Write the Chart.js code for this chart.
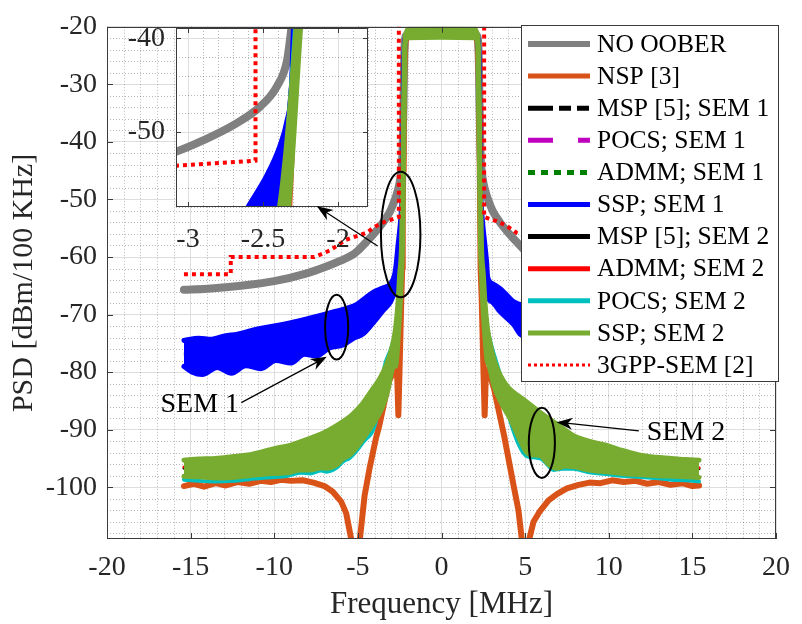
<!DOCTYPE html>
<html><head><meta charset="utf-8">
<script src="https://cdn.jsdelivr.net/npm/chart.js@4"></script>
<style>
html,body{margin:0;padding:0;background:#fff;}
#wrap{position:relative;width:802px;height:624px;}
canvas{position:absolute;left:0;top:0;}
</style></head><body>
<div id="wrap"><canvas id="main" width="802" height="624"></canvas><canvas id="inset" width="802" height="624"></canvas></div>
<script>
// ---------------- DATA ----------------
const xTicks = [-20,-15,-10,-5,0,5,10,15,20];
const yTicks = [-100,-90,-80,-70,-60,-50,-40,-30,-20];
const insetXTicks = [-3,-2.5,-2];
const insetYTicks = [-50,-40];

const legendLabels = ['NO OOBER','NSP [3]','MSP [5]; SEM 1','POCS; SEM 1','ADMM; SEM 1','SSP; SEM 1','MSP [5]; SEM 2','ADMM; SEM 2','POCS; SEM 2','SSP; SEM 2','3GPP-SEM [2]'];

const noOoberX = [-15.4,-14,-12,-10,-8,-7,-6,-5.3,-5,-4.5,-4,-3.5,-3.08,-2.9,-2.68,-2.52,-2.41,-2.34,-2.315,-2.27,-2.24,-2.2,-2.1,0,2.1,2.2,2.24,2.27,2.315,2.34,2.41,2.52,2.68,2.9,3.08,3.5,4,4.5,5,5.3,6,7,8,10,12,14,15.4];
const noOoberY = [-65.7,-65.5,-65.0,-64.2,-62.8,-61.8,-60.6,-59.6,-58.9,-57.4,-55.8,-54.0,-52.1,-50.9,-49.1,-47.3,-45.2,-42.4,-39.5,-33,-27,-23,-21.5,-21.2,-21.5,-23,-27,-33,-39.5,-42.4,-45.2,-47.3,-49.1,-50.9,-52.1,-54.0,-55.8,-57.4,-58.9,-59.6,-60.6,-61.8,-62.8,-64.2,-65.0,-65.5,-65.7];

const nspX = [-15.4,-14.8,-14.2,-13.5,-12.9,-12.2,-11.5,-10.8,-10.2,-9.6,-9.0,-8.3,-7.65,-7.0,-6.5,-6.0,-5.7,-5.4,-5.15,-4.88,-4.6,-4.3,-3.92,-3.72,-3.4,-3.13,-2.95,-2.75,-2.65,-2.58,-2.52,-2.46,-2.40,-2.35,-2.325,-2.31,-2.29,-2.26,-2.22,-2.15,-2.0,0,
  2.0,2.15,2.22,2.26,2.29,2.31,2.325,2.35,2.40,2.46,2.52,2.58,2.65,2.75,2.95,3.15,3.74,4.33,4.6,4.8,5.05,5.25,5.5,5.9,6.4,6.9,7.5,8.2,8.85,9.5,10.2,10.9,11.6,12.3,13.0,13.7,14.4,15.0,15.4];
const nspY = [-99.8,-99.4,-99.9,-99.3,-99.7,-99.1,-99.4,-98.9,-99.1,-98.7,-98.9,-98.8,-99.2,-99.8,-100.8,-102.5,-104.5,-109,-125,-109,-101.5,-96.7,-91.5,-89.3,-85,-81.5,-80.5,-79.5,-80.5,-87.5,-81,-74,-67,-62,-58,-53,-45,-35,-27,-22.5,-21.5,-21.2,
  -21.5,-22.5,-27,-35,-45,-53,-58,-62,-67,-74,-81,-87.5,-80.5,-79.5,-81,-83,-91,-100,-104,-109,-125,-109,-106,-104.1,-102.3,-101.2,-100.2,-99.6,-99.2,-99.3,-98.8,-99.1,-98.9,-99.4,-99.1,-99.6,-99.3,-99.8,-99.7];

const mspSem1X  = [-15.4,-12,-9,-6,-4,-3,0,3,4,6,9,12,15.4];
const mspSem1Y  = [-77,-76.3,-74.8,-72,-69.5,-66.5,null,-66.3,-69.6,-72,-74.8,-76.3,-77];
const pocsSem1X = [-15.4,-12,-9,-6,-4,-3,0,3,4,6,9,12,15.4];
const pocsSem1Y = [-76.8,-76.0,-74.5,-71.7,-69.2,-66.3,null,-66.1,-69.3,-71.7,-74.5,-76.0,-76.8];
const admmSem1X = [-15.4,-12,-9,-6,-4,-3,0,3,4,6,9,12,15.4];
const admmSem1Y = [-77.2,-76.6,-75.1,-72.3,-69.8,-66.7,null,-66.5,-69.9,-72.3,-75.1,-76.6,-77.2];

const sspSem1UpperX = [-15.4,-14.5,-13.8,-12.95,-12.2,-11,-10,-9,-8,-7.06,-6.3,-5.1,-4.5,-4.0,-3.52,-3.03,-2.8,-2.7,-2.6,-2.48,-2.39,-2.34,-2.31,-2.30,-2.28,-2.24,-2.15,-2.0,0,
  2.0,2.15,2.24,2.28,2.30,2.31,2.34,2.39,2.48,2.6,2.7,2.76,3.03,3.55,4.0,4.33,5.1,6.3,7.06,8,9,10,11,12.2,12.95,13.8,14.5,15.4];
const sspSem1UpperY = [-74.5,-74.1,-74.3,-73.7,-73.4,-72.5,-72.0,-71.4,-70.7,-70.0,-69.4,-68.3,-67.0,-66.0,-65.4,-64.6,-63.0,-61.0,-58.0,-54.8,-51.6,-48.8,-45.2,-40.2,-33,-25,-21.8,-21.3,-21.2,
  -21.3,-21.8,-25,-33,-40.2,-45.2,-48.8,-51.6,-54.8,-58,-61,-63.5,-64.6,-65.6,-66.9,-67.8,-68.6,-69.4,-70.0,-70.7,-71.4,-72.0,-72.5,-73.4,-73.7,-74.3,-74.1,-74.5];
const sspSem1LowerX = [-15.4,-14.9,-14.3,-13.4,-12.56,-11.7,-10.8,-9.9,-9.0,-8.2,-7.5,-6.7,-5.88,-5.3,-4.7,-4.1,-3.52,-3.03,-2.74,-2.6,-2.5,-2.41,-2.38,-2.34,-2.31,-2.287,-2.26,-2.2,-2.05,0,
  2.05,2.2,2.26,2.287,2.31,2.34,2.38,2.41,2.5,2.6,2.76,3.03,3.5,4.33,4.7,5.3,5.88,6.7,7.5,8.2,9.0,9.9,10.8,11.7,12.56,13.4,14.3,14.9,15.4];
const sspSem1LowerY = [-79.0,-80.0,-80.4,-79.2,-80.2,-78.9,-79.4,-78.0,-78.4,-76.9,-77.2,-75.8,-75.3,-74.2,-73.4,-71.5,-69.4,-67.7,-65.4,-63,-61,-58,-54.5,-50.5,-45,-39.8,-32,-24,-21.8,-21.6,
  -21.8,-24,-32,-39.8,-45,-50.5,-54.5,-58,-61,-63,-67,-67.8,-69.5,-71.8,-73.4,-74.2,-75.3,-75.8,-77.2,-76.9,-78.4,-78.0,-79.4,-78.9,-80.2,-79.2,-80.4,-80.0,-79.0];

const mspSem2X  = [-15.4,-12,-9,-7,-5.5,-4.5,-3.5,0,3.5,4.5,5.5,7,9,12,15.4];
const mspSem2Y  = [-96.7,-96.4,-95.2,-93.8,-91.5,-88.5,-83,null,-82.5,-88,-91,-93.5,-95,-96.3,-96.8];
const admmSem2X = [-15.4,-12,-9,-7,-5.5,-4.5,-3.5,0,3.5,4.5,5.5,7,9,12,15.4];
const admmSem2Y = [-96.5,-96.1,-95.0,-93.5,-91.2,-88.0,-82.6,null,-82.2,-87.6,-90.7,-93.2,-94.8,-96.0,-96.6];

const pocsSem2X = [-15.4,-14.5,-13.5,-12.5,-11.5,-10.5,-9.8,-9.2,-8.4,-7.85,-7.2,-6.86,-6.27,-5.88,-5.49,-4.7,-3.92,-3.4,-3.0,-2.75,-2.6,-2.45,-2.36,-2.3,-2.25,-2.2,-2.05,0,
  2.05,2.2,2.25,2.3,2.36,2.45,2.6,2.75,3.0,3.3,3.6,4.13,5.11,5.5,6.0,6.4,6.69,7.2,7.87,8.8,9.83,10.8,11.8,12.8,13.76,14.6,15.4];
const pocsSem2Y = [-98.7,-98.9,-99.0,-98.9,-98.6,-98.3,-98.2,-98.0,-97.5,-97.6,-97.1,-97.3,-96.6,-95.5,-94.9,-92.2,-88.5,-79.0,-75.8,-72.8,-68.5,-64,-55,-42,-30,-23,-21.6,-21.4,
  -21.6,-23,-30,-42,-55,-64,-68.5,-72.4,-75.6,-78.5,-81.5,-88.6,-94.6,-94.8,-95.1,-96.3,-97.0,-96.8,-96.8,-97.4,-97.7,-98.0,-98.2,-98.4,-98.7,-98.8,-99.0];

const sspSem2UpperX = [-15.4,-14.5,-13.5,-12.5,-11.58,-10.8,-10,-9,-7.85,-7.0,-6.27,-5.5,-5.1,-4.7,-4.2,-3.72,-3.3,-2.93,-2.75,-2.6,-2.5,-2.39,-2.28,-2.25,-2.22,-2.17,-2.08,-1.95,0,
  1.95,2.08,2.17,2.22,2.25,2.28,2.39,2.5,2.6,2.75,2.93,3.15,3.5,3.94,4.92,5.9,6.88,7.87,8.8,9.83,10.8,11.8,12.8,13.76,14.6,15.4];
const sspSem2UpperY = [-95.3,-95.1,-95.0,-94.7,-94.4,-93.9,-93.3,-92.7,-91.5,-90.5,-89.3,-87.8,-86.7,-85.4,-83.3,-81.3,-78.8,-75.4,-72.5,-68,-63,-58,-39,-31,-25,-22,-20.8,-20.4,-20.3,
  -20.4,-20.8,-22,-25,-31,-39,-58,-63,-68,-72.5,-75.4,-78,-80.5,-82.5,-84.8,-87,-89,-91,-92,-92.7,-93.6,-94.4,-94.8,-95.0,-95.2,-95.3];
const sspSem2LowerX = [-15.4,-14.5,-13.5,-12.5,-11.5,-10.5,-9.8,-9.2,-8.4,-7.85,-7.2,-6.86,-6.27,-5.88,-5.49,-4.7,-3.92,-3.52,-3.2,-2.95,-2.8,-2.74,-2.66,-2.55,-2.45,-2.38,-2.33,-2.25,-2.21,-2.19,-2.15,-2.05,0,
  2.05,2.15,2.19,2.21,2.25,2.33,2.38,2.45,2.55,2.66,2.74,2.8,3.15,3.6,4.13,4.6,5.11,5.5,5.9,6.4,6.88,7.4,7.87,8.8,9.83,10.8,11.8,13,14,15.4];
const sspSem2LowerY = [-98.1,-98.2,-98.4,-98.3,-98.0,-97.7,-97.6,-97.5,-97.0,-97.0,-96.6,-96.7,-96.1,-95.0,-94.4,-91.6,-88.2,-86,-83,-79.5,-78.3,-79,-77,-72,-67,-62,-58,-39,-30,-25,-22.6,-21.9,-21.8,
  -21.9,-22.6,-25,-30,-39,-58,-62,-67,-72,-76,-78.2,-78.5,-82.5,-85.5,-88.2,-91.2,-94,-94.4,-94.5,-96,-96.7,-96.3,-96.4,-97,-97.3,-97.6,-97.8,-98.0,-98.1,-98.3];

const semX = [-15.4,-12.6,-12.6,-7.6,-6.7,-5.7,-4.5,-3.9,-3.3,-3.08,-2.55,-2.55,2.55,2.55,3.08,3.3,3.9,4.5,5.7,6.7,7.6,12.6,12.6,15.4];
const semY = [-63,-63,-60,-60,-58.9,-57,-55.8,-54.6,-53.75,-53.6,-53.05,-10,-10,-53.05,-53.6,-53.75,-54.6,-55.8,-57,-58.9,-60,-60,-63,-63];

// annotations (data units): ellipses [cx, cy, rx, ry], arrows [x1,y1,x2(tip),y2(tip)], texts [x, y, text]
const ellipses = [[-2.44,-56.1,1.18,10.9],[-6.27,-72.2,0.69,5.63],[6.0,-92.3,0.78,6.1]];
const arrows = [[-3.82,-58.1,-7.45,-51.2],[-11.97,-85.3,-6.86,-77.35],[11.8,-90.2,6.88,-88.7]];
const notes = [[-16.8,-85.6,'SEM 1'],[12.27,-90.45,'SEM 2']];

// ---------------- STYLES ----------------
Chart.defaults.font.family = '"Liberation Serif","Times New Roman",serif';
const FG = '#262626';
const styles = [
  {c:'#808080', w:8},
  {c:'#D95319', w:6},
  {c:'#000000', w:3, dash:[12,6]},
  {c:'#BF00BF', w:3, dash:[25,25]},
  {c:'#008000', w:3, dash:[6,7]},
  {c:'#0000FF', w:5},
  {c:'#000000', w:3},
  {c:'#FF0000', w:3},
  {c:'#00BFBF', w:4},
  {c:'#77AC30', w:5},
  {c:'#FF0000', w:4, dash:[4,4]}
];
const legendStyles = [
  {c:'#808080', w:6},{c:'#D95319', w:5},{c:'#000000', w:5, dash:[25,6,12,6,12]},{c:'#BF00BF', w:5, dash:[25,25]},
  {c:'#008000', w:5, dash:[7,6]},{c:'#0000FF', w:5},{c:'#000000', w:5},{c:'#FF0000', w:5},{c:'#00BFBF', w:5},{c:'#77AC30', w:5},{c:'#FF0000', w:3, dash:[3,3]}
];

const mk = (xs, ys) => xs.map((x, i) => ({x: x, y: ys[i]}));
function makeDatasets() {
  const base = {pointRadius:0, borderJoinStyle:'round', borderCapStyle:'round', clip:0, fill:false, tension:0, spanGaps:false};
  const L = [
    {...base, label:legendLabels[0], data:mk(noOoberX,noOoberY), borderColor:styles[0].c, borderWidth:styles[0].w, cubicInterpolationMode:'monotone'},
    {...base, label:legendLabels[1], data:mk(nspX,nspY), borderColor:styles[1].c, borderWidth:styles[1].w},
    {...base, label:legendLabels[2], data:mk(mspSem1X,mspSem1Y), borderColor:styles[2].c, borderWidth:styles[2].w, borderDash:styles[2].dash, borderCapStyle:'butt'},
    {...base, label:legendLabels[3], data:mk(pocsSem1X,pocsSem1Y), borderColor:styles[3].c, borderWidth:styles[3].w, borderDash:styles[3].dash, borderCapStyle:'butt'},
    {...base, label:legendLabels[4], data:mk(admmSem1X,admmSem1Y), borderColor:styles[4].c, borderWidth:styles[4].w, borderDash:styles[4].dash, borderCapStyle:'butt'},
    {...base, label:legendLabels[5], data:mk(sspSem1UpperX,sspSem1UpperY), borderColor:styles[5].c, borderWidth:styles[5].w, fill:'+1', backgroundColor:styles[5].c, cubicInterpolationMode:'monotone'},
    {...base, label:legendLabels[5]+' (lower)', data:mk(sspSem1LowerX,sspSem1LowerY), borderColor:styles[5].c, borderWidth:styles[5].w, cubicInterpolationMode:'monotone'},
    {...base, label:legendLabels[6], data:mk(mspSem2X,mspSem2Y), borderColor:styles[6].c, borderWidth:styles[6].w},
    {...base, label:legendLabels[7], data:mk(admmSem2X,admmSem2Y), borderColor:styles[7].c, borderWidth:styles[7].w},
    {...base, label:legendLabels[8], data:mk(pocsSem2X,pocsSem2Y), borderColor:styles[8].c, borderWidth:styles[8].w, cubicInterpolationMode:'monotone'},
    {...base, label:legendLabels[9], data:mk(sspSem2UpperX,sspSem2UpperY), borderColor:styles[9].c, borderWidth:styles[9].w, fill:'+1', backgroundColor:styles[9].c, cubicInterpolationMode:'monotone'},
    {...base, label:legendLabels[9]+' (lower)', data:mk(sspSem2LowerX,sspSem2LowerY), borderColor:styles[9].c, borderWidth:styles[9].w, cubicInterpolationMode:'monotone'},
    {...base, label:legendLabels[10], data:mk(semX,semY), borderColor:styles[10].c, borderWidth:styles[10].w, borderDash:styles[10].dash, borderCapStyle:'butt', borderJoinStyle:'miter'}
  ];
  L.forEach((d, i) => { d.order = L.length - i; });
  return L;
}

function range(a, b, s) { const r = []; for (let v = a; v <= b + 1e-9; v += s) r.push(Math.round(v * 1000) / 1000); return r; }

function minorGridPlugin(mx, my) {
  return {id:'minorGrid', beforeDatasetsDraw(chart) {
    const {ctx, chartArea:a, scales:{x, y}} = chart;
    ctx.save();
    ctx.strokeStyle = 'rgba(0,0,0,0.28)'; ctx.lineWidth = 1; ctx.setLineDash([1,2]);
    ctx.beginPath();
    mx.forEach(v => { const p = Math.round(x.getPixelForValue(v)) + 0.5; ctx.moveTo(p, a.top); ctx.lineTo(p, a.bottom); });
    my.forEach(v => { const p = Math.round(y.getPixelForValue(v)) + 0.5; ctx.moveTo(a.left, p); ctx.lineTo(a.right, p); });
    ctx.stroke();
    ctx.restore();
  }};
}
function boxPlugin(tx, ty, tl) {
  return {id:'box', afterDatasetsDraw(chart) {
    const {ctx, chartArea:a, scales:{x, y}} = chart;
    ctx.save();
    ctx.strokeStyle = '#3a3a3a'; ctx.lineWidth = 1; ctx.setLineDash([]);
    ctx.strokeRect(Math.round(a.left) + 0.5, Math.round(a.top) + 0.5, Math.round(a.right - a.left) - 1, Math.round(a.bottom - a.top) - 1);
    ctx.beginPath();
    tx.forEach(v => { const p = Math.round(x.getPixelForValue(v)) + 0.5; ctx.moveTo(p, a.bottom); ctx.lineTo(p, a.bottom - tl); ctx.moveTo(p, a.top); ctx.lineTo(p, a.top + tl); });
    ty.forEach(v => { const p = Math.round(y.getPixelForValue(v)) + 0.5; ctx.moveTo(a.left, p); ctx.lineTo(a.left + tl, p); ctx.moveTo(a.right, p); ctx.lineTo(a.right - tl, p); });
    ctx.stroke();
    ctx.restore();
  }};
}
const legendPlugin = {id:'mlegend', afterDraw(chart) {
  const ctx = chart.ctx;
  ctx.save();
  ctx.fillStyle = '#fff'; ctx.fillRect(521, 25, 258, 357);
  ctx.strokeStyle = '#3a3a3a'; ctx.lineWidth = 1; ctx.strokeRect(521.5, 25.5, 257, 356);
  ctx.font = '25.5px "Liberation Serif"'; ctx.textBaseline = 'middle'; ctx.textAlign = 'left';
  legendLabels.forEach((t, i) => {
    const yy = 44 + i * 32.1; const s = legendStyles[i];
    ctx.strokeStyle = s.c; ctx.lineWidth = s.w; ctx.setLineDash(s.dash || []); ctx.lineCap = 'butt';
    ctx.beginPath(); ctx.moveTo(528, yy); ctx.lineTo(590, yy); ctx.stroke();
    ctx.setLineDash([]); ctx.fillStyle = '#000'; ctx.fillText(t, 597, yy + 1);
  });
  ctx.restore();
}};

const mainChart = new Chart(document.getElementById('main'), {
  type:'line',
  data:{datasets: makeDatasets()},
  options:{
    responsive:false, devicePixelRatio:1, animation:false, events:[],
    layout:{padding:{left:0, right:16, top:17, bottom:0}},
    plugins:{legend:{display:false}, tooltip:{enabled:false}},
    scales:{
      x:{type:'linear', min:-20, max:20,
        afterBuildTicks: s => { s.ticks = xTicks.map(v => ({value:v})); },
        afterFit: s => { s.height = 85; },
        grid:{color:'#dedede', lineWidth:1, drawTicks:false}, border:{display:false},
        ticks:{padding:12, color:FG, font:{size:28}, maxRotation:0, autoSkip:false, callback: v => String(v)},
        title:{display:true, text:'Frequency [MHz]', color:FG, font:{size:31}, padding:{top:0, bottom:1}}},
      y:{type:'linear', min:-109, max:-20,
        afterBuildTicks: s => { s.ticks = yTicks.map(v => ({value:v})); },
        afterFit: s => { s.width = 107; },
        grid:{color:'#dedede', lineWidth:1, drawTicks:false}, border:{display:false},
        ticks:{padding:10, color:FG, font:{size:28}, autoSkip:false, callback: v => String(v)},
        title:{display:true, text:'PSD [dBm/100 KHz]', color:FG, font:{size:30}, padding:{top:6, bottom:0}}}
    }
  },
  plugins:[minorGridPlugin(range(-20,20,1).filter(v => v % 5 !== 0), range(-108,-20,2).filter(v => v % 10 !== 0)), boxPlugin(xTicks, yTicks, 6), legendPlugin]
});

function drawAnnotations(ctx) {
  const sx = mainChart.scales.x, sy = mainChart.scales.y;
  ctx.save();
  ctx.strokeStyle = '#000'; ctx.fillStyle = '#000';
  ctx.lineWidth = 2;
  ellipses.forEach(e => {
    const X = sx.getPixelForValue(e[0]), Y = sy.getPixelForValue(e[1]);
    const RX = Math.abs(sx.getPixelForValue(e[0] + e[2]) - X), RY = Math.abs(sy.getPixelForValue(e[1] + e[3]) - Y);
    ctx.beginPath(); ctx.ellipse(X, Y, RX, RY, 0, 0, 2 * Math.PI); ctx.stroke();
  });
  ctx.lineWidth = 1.2;
  arrows.forEach(a => {
    const x1 = sx.getPixelForValue(a[0]), y1 = sy.getPixelForValue(a[1]);
    const x2 = sx.getPixelForValue(a[2]), y2 = sy.getPixelForValue(a[3]);
    const d = Math.hypot(x2 - x1, y2 - y1), ux = (x2 - x1) / d, uy = (y2 - y1) / d, nx = -uy, ny = ux;
    const L = 16, W = 6;
    ctx.beginPath(); ctx.moveTo(x1, y1); ctx.lineTo(x2 - ux * L * 0.6, y2 - uy * L * 0.6); ctx.stroke();
    ctx.beginPath(); ctx.moveTo(x2, y2);
    ctx.lineTo(x2 - ux * L + nx * W, y2 - uy * L + ny * W);
    ctx.lineTo(x2 - ux * L * 0.7, y2 - uy * L * 0.7);
    ctx.lineTo(x2 - ux * L - nx * W, y2 - uy * L - ny * W);
    ctx.closePath(); ctx.fill();
  });
  ctx.font = '28px "Liberation Serif"'; ctx.textBaseline = 'middle'; ctx.textAlign = 'left'; ctx.fillStyle = '#000';
  notes.forEach(n => { ctx.fillText(n[2], sx.getPixelForValue(n[0]), sy.getPixelForValue(n[1])); });
  ctx.restore();
}

const insetChart = new Chart(document.getElementById('inset'), {
  type:'line',
  data:{datasets: makeDatasets()},
  options:{
    responsive:false, devicePixelRatio:1, animation:false, events:[],
    layout:{padding:{left:116, right:434, top:28, bottom:372}},
    plugins:{legend:{display:false}, tooltip:{enabled:false}},
    scales:{
      x:{type:'linear', min:-3.08, max:-1.8,
        afterBuildTicks: s => { s.ticks = insetXTicks.map(v => ({value:v})); },
        afterFit: s => { s.height = 45; },
        grid:{color:'#dedede', lineWidth:1, drawTicks:false}, border:{display:false},
        ticks:{padding:16, color:FG, font:{size:28}, maxRotation:0, autoSkip:false, callback: v => String(v)}},
      y:{type:'linear', min:-58, max:-38.9,
        afterBuildTicks: s => { s.ticks = insetYTicks.map(v => ({value:v})); },
        afterFit: s => { s.width = 60; },
        grid:{color:'#dedede', lineWidth:1, drawTicks:false}, border:{display:false},
        ticks:{padding:11, color:FG, font:{size:28}, autoSkip:false, callback: v => String(v)}}
    }
  },
  plugins:[
    {id:'insetBg', beforeDraw(chart) { const a = chart.chartArea; chart.ctx.save(); chart.ctx.fillStyle = '#fff'; chart.ctx.fillRect(a.left, a.top, a.right - a.left, a.bottom - a.top); chart.ctx.restore(); }},
    minorGridPlugin(range(-3.0,-1.8,0.1).filter(v => Math.abs(v * 2 - Math.round(v * 2)) > 1e-6), range(-58,-40,2).filter(v => v % 10 !== 0)),
    boxPlugin(insetXTicks, insetYTicks, 5),
    {id:'annot', afterDraw(chart) { drawAnnotations(chart.ctx); }}
  ]
});
</script>
</body></html>
